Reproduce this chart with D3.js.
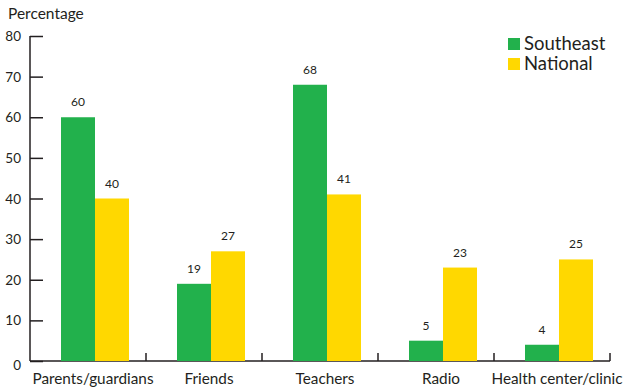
<!DOCTYPE html>
<html><head><meta charset="utf-8">
<script src="https://cdn.jsdelivr.net/npm/d3@7"></script>
<style>body{margin:0;background:#fff}svg{display:block}text{font-family:Lato,"Open Sans",sans-serif;fill:#231f20}</style>
</head><body>
<svg id="c" width="624" height="390"></svg>
<script>
const categories = ["Parents/guardians","Friends","Teachers","Radio","Health center/clinic"];
const seriesNames = ["Southeast","National"];
const southeast = [60,19,68,5,4];
const national = [40,27,41,23,25];
const yTicks = [0,10,20,30,40,50,60,70,80];
const colors = ["#22b14c","#ffd800"];

const svg = d3.select("#c");
const x0 = d3.scaleBand().domain(categories).range([30,610]);
const x1 = d3.scaleBand().domain(seriesNames).range([31,99]);
const y = d3.scaleLinear().domain([0,80]).range([361,36]);
const axisColor = "#231f20";

// y axis
const yAxis = d3.axisRight(y).tickValues(yTicks).tickSize(13).tickFormat("");
const gy = svg.append("g").attr("transform","translate(30,0)").call(yAxis);
gy.select(".domain").attr("d","M0,"+y(80)+"V"+y(0)).attr("stroke",axisColor).attr("stroke-width",1.5);
gy.selectAll(".tick line").attr("stroke",axisColor).attr("stroke-width",1.5);
svg.append("g").selectAll("text").data(yTicks).join("text")
  .attr("x",21).attr("y",d=>y(d)+ (d===0?9:5)).attr("text-anchor","end")
  .attr("font-size",13.5).text(d=>d);

// x axis baseline and category ticks
svg.append("line").attr("x1",30).attr("x2",610).attr("y1",y(0)).attr("y2",y(0))
  .attr("stroke",axisColor).attr("stroke-width",1.5);
svg.append("g").selectAll("line").data(categories).join("line")
  .attr("x1",d=>x0(d)+x0.bandwidth()).attr("x2",d=>x0(d)+x0.bandwidth())
  .attr("y1",y(0)).attr("y2",y(0)-8).attr("stroke",axisColor).attr("stroke-width",1.5);

// bars
const data = categories.map((c,i)=>({c, vals:[{s:seriesNames[0],v:southeast[i]},{s:seriesNames[1],v:national[i]}]}));
const g = svg.append("g").selectAll("g").data(data).join("g").attr("transform",d=>`translate(${x0(d.c)},0)`);
g.selectAll("rect").data(d=>d.vals).join("rect")
  .attr("x",d=>x1(d.s)).attr("width",x1.bandwidth())
  .attr("y",d=>y(d.v)).attr("height",d=>y(0)-y(d.v))
  .attr("fill",(d,i)=>colors[i]);
g.selectAll("text.v").data(d=>d.vals).join("text").attr("class","v")
  .attr("x",d=>x1(d.s)+x1.bandwidth()/2).attr("y",d=>y(d.v)-11)
  .attr("text-anchor","middle").attr("font-size",12).text(d=>d.v);

// category labels
svg.append("g").selectAll("text").data(categories).join("text")
  .attr("x",d=>x0(d)+x1.range()[0]+(x1.range()[1]-x1.range()[0])/2-2)
  .attr("y",384).attr("text-anchor","middle").attr("font-size",15.3).text(d=>d);

// title
svg.append("text").attr("x",8).attr("y",19).attr("font-size",15.5).text("Percentage");

// legend
const lg = svg.append("g").selectAll("g").data(seriesNames).join("g")
  .attr("transform",(d,i)=>`translate(508,${38+i*20})`);
lg.append("rect").attr("width",12).attr("height",12).attr("fill",(d,i)=>colors[i]);
lg.append("text").attr("x",16).attr("y",12).attr("font-size",18.5).text(d=>d);
</script>
</body></html>
